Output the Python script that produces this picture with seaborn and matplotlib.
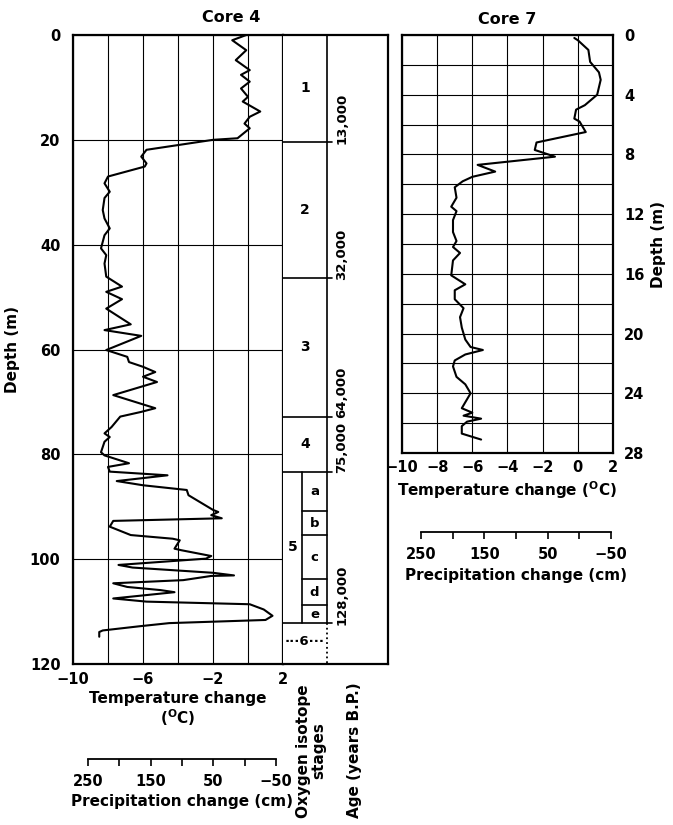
import matplotlib
matplotlib.use('Agg')
import matplotlib.pyplot as plt
import seaborn as sns
import numpy as np
import pandas as pd

# ---------------- data ----------------
# Core 4: temperature change (deg C) against depth (m)
core4_depth = [0.0, 1.0, 2.9, 4.8, 6.7, 7.6, 8.9, 10.2, 11.8, 12.7, 14.6, 15.6, 16.9, 17.8,
               19.7, 20.0, 21.9, 23.2, 24.5, 25.1, 27.0, 28.3, 29.9, 31.1, 33.4, 35.0, 36.9,
               38.2, 40.7, 42.0, 43.6, 46.1, 48.0, 49.0, 50.4, 52.2, 55.2, 56.3, 57.4, 60.1,
               61.4, 62.4, 63.3, 64.3, 65.2, 66.2, 67.0, 68.7, 71.2, 71.9, 72.8, 74.8, 76.0,
               76.7, 77.6, 79.6, 80.2, 81.7, 82.4, 83.3, 84.0, 85.1, 85.9, 86.8, 87.8, 90.6,
               91.0, 91.6, 92.2, 92.7, 93.8, 95.4, 96.1, 96.4, 98.0, 98.3, 99.4, 99.9, 101.1,
               101.6, 102.6, 103.1, 103.2, 104.0, 104.6, 105.3, 105.9, 106.3, 107.5, 108.1,
               108.6, 109.6, 110.8, 111.6, 112.2, 112.8, 113.6, 113.9, 114.8]
core4_temp = [-0.1, -0.9, -0.1, -0.7, 0.1, -0.4, 0.1, -0.4, 0.0, -0.3, 0.7, 0.1, -0.2, 0.1,
              -0.6, -2.0, -5.8, -6.1, -5.8, -5.9, -8.0, -8.2, -7.9, -8.2, -8.3, -8.2, -7.9,
              -8.2, -8.4, -8.1, -8.2, -8.1, -7.2, -8.1, -7.2, -8.1, -6.7, -8.2, -6.1, -8.1,
              -6.9, -6.8, -6.0, -5.3, -6.0, -5.2, -6.0, -7.7, -5.3, -6.1, -7.3, -7.8, -8.2,
              -7.9, -8.2, -8.4, -8.2, -6.8, -8.0, -7.9, -4.6, -7.5, -6.0, -3.5, -3.4, -2.0,
              -1.7, -2.1, -1.5, -7.7, -7.9, -6.7, -4.3, -3.9, -4.2, -3.8, -2.1, -2.4, -7.4,
              -6.6, -2.0, -0.8, -2.1, -3.7, -7.7, -6.9, -5.0, -4.2, -7.7, -5.8,
              0.1, 0.9, 1.4, 1.0, -4.5, -6.2, -8.3, -8.5, -8.5]

# Core 7
core7_depth = [0.2, 0.35, 1.0, 1.8, 2.5, 3.0, 4.0, 4.7, 5.0, 5.6, 5.8, 6.5, 7.2, 7.7, 8.15,
               8.7, 9.15, 9.5, 9.8, 10.2, 10.9, 11.5, 11.8, 12.4, 13.2, 13.8, 14.2, 14.6,
               15.1, 16.1, 16.7, 17.1, 17.7, 18.3, 18.9, 19.6, 20.4, 20.9, 21.1, 21.4, 21.8,
               22.2, 22.9, 23.4, 24.0, 24.4, 25.0, 25.3, 25.5, 25.7, 25.9, 26.2, 26.7, 27.1]
core7_temp = [-0.2, 0.0, 0.6, 0.7, 1.2, 1.3, 1.1, 0.4, -0.1, -0.2, 0.1, 0.45, -2.35, -2.45, -1.3,
              -5.7, -4.7, -6.0, -6.55, -7.0, -6.9, -7.2, -6.9, -7.1, -7.1, -6.9, -7.1, -6.7,
              -7.1, -7.2, -6.4, -7.0, -7.0, -6.5, -6.7, -6.6, -6.4, -6.1, -5.4, -6.4, -7.0,
              -7.1, -6.9, -6.4, -6.1, -6.3, -6.6, -6.0, -6.5, -5.5, -6.3, -6.6, -6.6, -5.5]

# oxygen isotope stages (core 4)
stage_bounds = [0, 20.4, 46.4, 72.8, 83.3, 112.2]
stage_names = ['1', '2', '3', '4', '5']
substage_bounds = [83.3, 90.9, 95.4, 103.8, 108.8, 112.2]
substage_names = ['a', 'b', 'c', 'd', 'e']
age_depths = [20.4, 46.4, 72.8, 83.3, 112.2]
age_labels = ['13,000', '32,000', '64,000', '75,000', '128,000']

temp_ticks = [-10, -8, -6, -4, -2, 0, 2]
precip_ticks = [250, 200, 150, 100, 50, 0, -50]

df4 = pd.DataFrame({'depth': core4_depth, 'temp': core4_temp})
df7 = pd.DataFrame({'depth': core7_depth, 'temp': core7_temp})

# ---------------- style ----------------
sns.set_style('white')
plt.rcParams['font.family'] = ['DejaVu Sans']
plt.rcParams['font.weight'] = 'bold'
plt.rcParams['font.size'] = 10
plt.rcParams['text.color'] = 'black'
plt.rcParams['axes.labelcolor'] = 'black'
plt.rcParams['xtick.color'] = 'black'
plt.rcParams['ytick.color'] = 'black'
plt.rcParams['mathtext.fontset'] = 'custom'
plt.rcParams['mathtext.rm'] = 'DejaVu Sans:bold'
plt.rcParams['mathtext.default'] = 'rm'

W, H = 673, 825
fig = plt.figure(figsize=(W / 100, H / 100), dpi=100)
LAB = 11      # axis titles
TCK = 10.5    # tick labels


def box(x0, y0, x1, y1):
    # pixel box -> figure fraction rect
    return [x0 / W, 1 - y1 / H, (x1 - x0) / W, (y1 - y0) / H]


def minus(v):
    return str(v).replace('-', '\u2212')


def frame(ax, lw=1.6):
    for s in ax.spines.values():
        s.set_visible(True)
        s.set_linewidth(lw)
        s.set_color('black')


# ---------------- Core 4 ----------------
ax4 = fig.add_axes(box(73, 35, 283, 664))
sns.lineplot(data=df4, x='temp', y='depth', sort=False, estimator=None,
             color='black', lw=1.5, ax=ax4)
ax4.set_xlim(-10, 2)
ax4.set_ylim(120, 0)
ax4.set_xticks(temp_ticks)
ax4.set_xticklabels([minus(t) if t in (-10, -6, -2, 2) else '' for t in temp_ticks])
ax4.set_yticks(np.arange(0, 121, 20))
ax4.set_yticklabels([str(v) for v in range(0, 121, 20)])
ax4.tick_params(length=0, labelsize=TCK, pad=6)
ax4.tick_params(axis='y', pad=9)
ax4.grid(True, color='black', lw=0.8)
frame(ax4)
ax4.set_xlabel('Temperature change\n($^{O}$C)', fontsize=LAB, fontweight='bold',
               labelpad=3, linespacing=1.05)
ax4.set_ylabel('Depth (m)', fontsize=LAB, fontweight='bold', labelpad=7)

# ---------------- stage / age columns ----------------
axs = fig.add_axes(box(283, 35, 388, 664))
axs.set_xlim(0, 1)
axs.set_ylim(120, 0)
axs.set_xticks([])
axs.set_yticks([])
frame(axs)
axs.spines['left'].set_visible(False)
col_split = 0.419
sub_split = 0.181
tick_end = 0.467
axs.plot([col_split, col_split], [0, stage_bounds[-1]], color='black', lw=1.2)
axs.plot([col_split, col_split], [stage_bounds[-1], 120], color='black', lw=1.3, ls=':')
for b in stage_bounds[1:]:
    axs.plot([0, tick_end], [b, b], color='black', lw=1.2)
for b in substage_bounds[1:-1]:
    axs.plot([sub_split, col_split], [b, b], color='black', lw=1.2)
axs.plot([sub_split, sub_split], [substage_bounds[0], substage_bounds[-1]], color='black', lw=1.2)
for i, name in enumerate(stage_names):
    mid = (stage_bounds[i] + stage_bounds[i + 1]) / 2
    xc = sub_split / 2 if name == '5' else col_split / 2
    axs.text(xc, mid, name, ha='center', va='center', fontsize=10)
for i, name in enumerate(substage_names):
    mid = (substage_bounds[i] + substage_bounds[i + 1]) / 2
    axs.text((sub_split + col_split) / 2, mid, name, ha='center', va='center', fontsize=9.5)
axs.text(col_split / 2, 115.8, '\u00b7\u00b7\u00b76\u00b7\u00b7\u00b7', ha='center', va='center',
         fontsize=9.5)
for d, lab in zip(age_depths, age_labels):
    axs.text(0.56, d + 0.3, lab, rotation=90, ha='center', va='bottom', fontsize=9.5)

fig.text(311 / W, 1 - 751 / H, 'Oxygen isotope\nstages', rotation=90, ha='center',
         va='center', fontsize=LAB, fontweight='bold', linespacing=1.0)
fig.text(355 / W, 1 - 750 / H, 'Age (years B.P.)', rotation=90, ha='center',
         va='center', fontsize=LAB, fontweight='bold')

# ---------------- Core 7 ----------------
ax7 = fig.add_axes(box(402, 35, 613, 453))
sns.lineplot(data=df7, x='temp', y='depth', sort=False, estimator=None,
             color='black', lw=1.5, ax=ax7)
ax7.set_xlim(-10, 2)
ax7.set_ylim(28, 0)
ax7.set_xticks(temp_ticks)
ax7.set_xticklabels([minus(t) for t in temp_ticks])
ax7.set_yticks(np.arange(0, 29, 4))
ax7.set_yticks(np.arange(2, 28, 4), minor=True)
ax7.yaxis.tick_right()
ax7.yaxis.set_label_position('right')
ax7.tick_params(which='both', length=0, labelsize=TCK, pad=5)
ax7.tick_params(axis='y', pad=8)
ax7.grid(True, which='both', color='black', lw=0.8)
frame(ax7)
ax7.set_xlabel('Temperature change ($^{O}$C)', fontsize=LAB, fontweight='bold', labelpad=3)
ax7.set_ylabel('Depth (m)', fontsize=LAB, fontweight='bold', labelpad=5)

# ---------------- precipitation scales ----------------
for rect in (box(88, 758, 276, 758.5), box(421, 531.7, 611, 532.2)):
    axp = fig.add_axes(rect)
    axp.set_xlim(250, -50)
    axp.set_ylim(0, 1)
    for s in ('left', 'right', 'top'):
        axp.spines[s].set_visible(False)
    axp.spines['bottom'].set_visible(True)
    axp.spines['bottom'].set_linewidth(1.3)
    axp.spines['bottom'].set_color('black')
    axp.set_yticks([])
    axp.set_xticks(precip_ticks)
    axp.set_xticklabels([minus(t) if t in (250, 150, 50, -50) else '' for t in precip_ticks])
    axp.tick_params(axis='x', direction='out', length=5, width=1.2, color='black',
                    labelsize=TCK, pad=6, bottom=True)
    axp.set_xlabel('Precipitation change (cm)', fontsize=LAB, fontweight='bold', labelpad=4)

fig.text(231 / W, 1 - 18 / H, 'Core 4', ha='center', va='center', fontsize=11.5, fontweight='bold')
fig.text(507 / W, 1 - 19 / H, 'Core 7', ha='center', va='center', fontsize=11.5, fontweight='bold')

fig.savefig('out.png', dpi=100, facecolor='white')
